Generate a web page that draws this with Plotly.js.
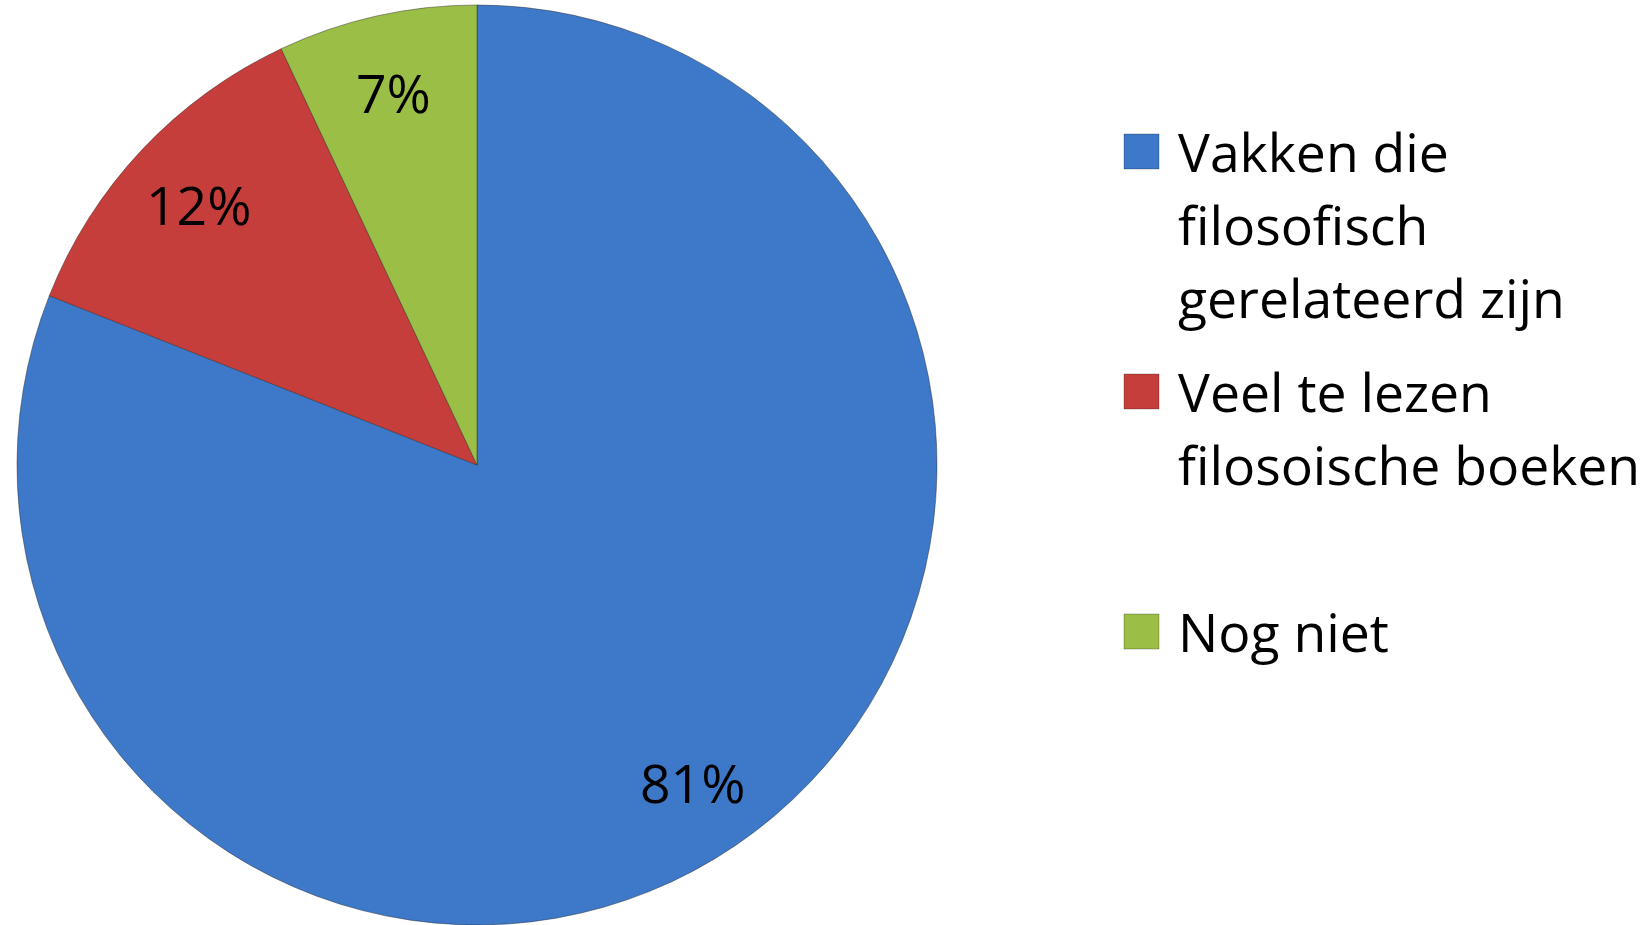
<!DOCTYPE html>
<html><head><meta charset="utf-8">
<script src="https://cdn.plot.ly/plotly-3.0.1.min.js"></script>
<style>html,body{margin:0;padding:0;background:#fff;}#chart{width:1650px;height:925px;}</style>
</head><body><div id="chart"></div>
<script>
// ---- data ----
const categories = ["Vakken die filosofisch gerelateerd zijn", "Veel te lezen filosoische boeken", "Nog niet"];
const legendLines = [["Vakken die", "filosofisch", "gerelateerd zijn"], ["Veel te lezen", "filosoische boeken"], ["Nog niet"]];
const values = [81, 12, 7];
const colors = ["#3D79C8", "#C63E3B", "#9BBE47"];

// ---- layout helpers ----
const W = 1650, H = 925;
const cx = 477, cy = 466, R = 461;
const FONT = "'Open Sans', Lato, sans-serif";
const FS = 53.5;
const labelRadius = 0.83;

const total = values.reduce((a, b) => a + b, 0);

const trace = {
  type: 'pie',
  labels: categories,
  values: values,
  sort: false,
  direction: 'clockwise',
  rotation: 0,
  textinfo: 'none',
  hoverinfo: 'label+percent',
  showlegend: false,
  marker: {colors: colors, line: {color: 'rgba(40,40,40,0.45)', width: 1}},
  domain: {x: [(cx - R) / W, (cx + R) / W], y: [1 - (cy + R) / H, 1 - (cy - R) / H]}
};

const annotations = [];
const shapes = [];
// percent labels at mid-angle of each slice
let cum = 0;
values.forEach((v, i) => {
  const mid = (cum + v / 2) / total * 2 * Math.PI;
  cum += v;
  const px = cx + labelRadius * R * Math.sin(mid);
  const py = cy - labelRadius * R * Math.cos(mid);
  annotations.push({
    xref: 'paper', yref: 'paper', x: px / W, y: 1 - py / H,
    xanchor: 'center', yanchor: 'middle', showarrow: false,
    text: Math.round(v / total * 100) + '%',
    font: {family: FONT, size: FS, color: '#000'}
  });
});

// legend
const legTop = 134, legStep = 240, sym = 35, symX = 1124, textX = 1176, lineH = 73;
legendLines.forEach((lines, i) => {
  const top = legTop + legStep * i;
  shapes.push({
    type: 'rect', xref: 'paper', yref: 'paper',
    x0: symX / W, x1: (symX + sym) / W, y0: 1 - top / H, y1: 1 - (top + sym) / H,
    fillcolor: colors[i], line: {color: 'rgba(0,0,0,0.25)', width: 1}
  });
  lines.forEach((t, j) => {
    annotations.push({
      xref: 'paper', yref: 'paper', x: textX / W, y: 1 - (top + sym / 2 + lineH * j) / H,
      xanchor: 'left', yanchor: 'middle', showarrow: false,
      text: t, font: {family: FONT, size: FS, color: '#000'}
    });
  });
});

const layout = {
  width: W, height: H,
  margin: {l: 0, r: 0, t: 0, b: 0},
  paper_bgcolor: '#fff', plot_bgcolor: '#fff',
  showlegend: false,
  annotations: annotations,
  shapes: shapes
};

Plotly.newPlot('chart', [trace], layout, {displayModeBar: false, staticPlot: true});
</script>
</body></html>
